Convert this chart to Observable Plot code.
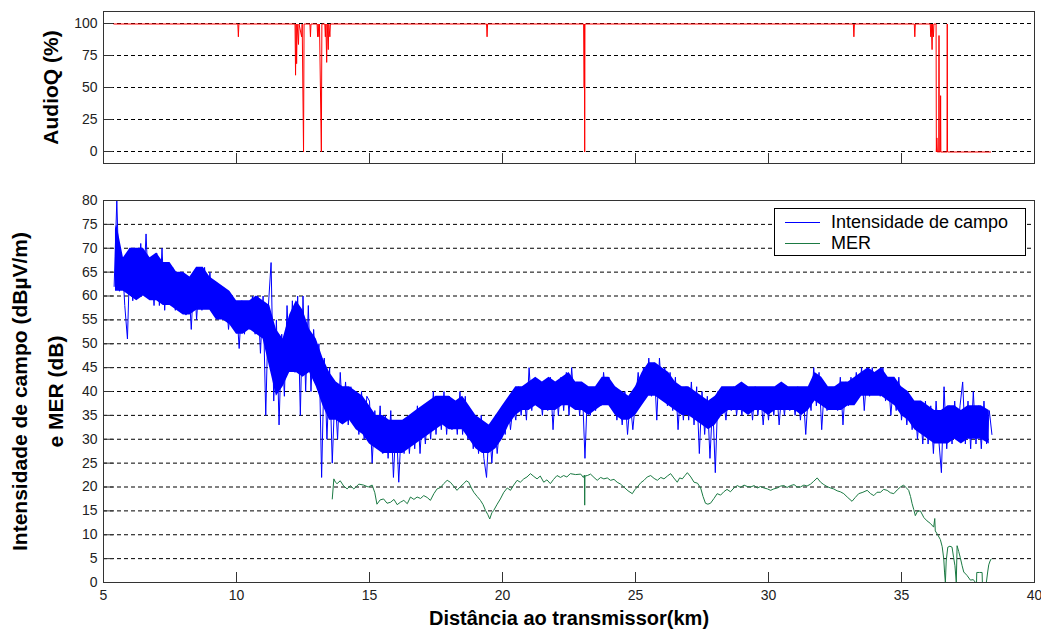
<!DOCTYPE html>
<html>
<head>
<meta charset="utf-8">
<script src="https://cdn.jsdelivr.net/npm/d3@7"></script>
<script src="https://cdn.jsdelivr.net/npm/@observablehq/plot@0.6"></script>
<style>
  html, body { margin: 0; padding: 0; background: #fff; }
  #chart { position: relative; width: 1041px; height: 630px; font-family: "Liberation Sans", Arial, sans-serif; }
  #chart svg { display: block; }
  #legend { position: absolute; left: 774px; top: 208px; width: 250px; height: 46px; border: 1px solid #000; background: #fff; font-size: 18px; color: #000; }
  #legend .row { position: absolute; left: 0; height: 20px; line-height: 20px; white-space: nowrap; }
  #legend .sw { position: absolute; left: 10px; top: 10px; width: 35px; height: 0; border-top: 1px solid; }
  #legend .lbl { position: absolute; left: 56px; top: 0; }
</style>
</head>
<body>
<div id="chart"></div>
<script>
// ---------- data ----------
const xTicks = [5, 10, 15, 20, 25, 30, 35, 40];
const audioTicks = [0, 25, 50, 75, 100];
const fieldTicks = [0, 5, 10, 15, 20, 25, 30, 35, 40, 45, 50, 55, 60, 65, 70, 75, 80];

// AudioQ (%) vs distance (km)
const audioPoints = [
  [5.39,100],[10.05,100],[10.07,90],[10.09,100],[12.2,100],[12.22,60],[12.24,100],[12.26,69],[12.28,100],
  [12.33,84],[12.35,100],[12.45,90],[12.47,100],[12.52,0],[12.54,100],[12.76,100],[12.78,90],[12.8,100],
  [13.03,100],[13.05,90],[13.07,100],[13.1,90],[13.12,100],[13.19,0],[13.21,100],[13.32,100],[13.34,90],
  [13.36,100],[13.39,70],[13.41,100],[13.45,80],[13.47,100],[13.51,90],[13.53,100],[19.4,100],[19.42,90],
  [19.44,100],[23.05,100],[23.07,50],[23.08,100],[23.09,0],[23.1,100],[33.19,100],[33.21,90],[33.23,100],
  [35.48,100],[35.5,90],[35.52,100],[36.08,100],[36.1,90],[36.12,100],[36.15,80],[36.17,100],[36.2,90],
  [36.22,100],[36.3,100],[36.31,0],[36.33,11],[36.35,0],[36.4,0],[36.41,91],[36.42,0],[36.46,0],[36.47,44],
  [36.48,0],[36.71,0],[36.72,100],[36.73,0],[38.35,0]
];

// Field strength (dBµV/m), one reading every 0.1 km from 5.4 km (spike extremes)
const fieldStartKm = 5.4;
const fieldStepKm = 0.1;
const fieldDbuv = [
  62,80,61,68,58,51,
  70,59,68,60,71,61,73,60,67,58,
  69,58,70,57,67,60,66,57,65,58,
  64,56,63,53,65,55,64,57,66,58,
  65,58,63,56,62,55,60,53,59,54,
  58,49,59,52,58,53,60,52,60,48,
  60,35,58,67,38,55,33,52,39,58,
  45,59,44,60,35,60,40,58,40,53,
  44,50,22,47,30,45,25,40,30,44,
  34,42,33,41,35,40,31,40,30,39,
  38,25,36,28,37,27,35,26,36,22,
  34,21,33,27,34,27,35,28,37,27,
  36,29,37,30,40,31,39,32,40,31,
  39,32,38,31,40,31,39,30,35,28,
  34,27,35,26,22,33,25,34,27,33,
  37,31,38,32,37,34,41,35,40,34,
  45,36,42,37,41,35,42,36,43,32,
  42,35,43,36,44,35,45,37,42,35,
  41,26,41,35,40,36,41,37,44,38,
  43,37,40,34,39,33,40,31,38,32,
  38,44,38,45,40,47,39,46,34,47,
  39,45,37,44,36,43,32,41,34,41,
  34,42,33,41,27,40,31,39,26,38,
  23,40,36,39,34,40,36,41,35,40,
  35,41,36,40,34,41,35,40,33,40,
  34,40,35,41,33,40,35,41,36,40,
  35,41,34,40,31,40,36,45,37,44,
  32,41,36,40,37,41,36,43,33,42,
  37,43,38,44,39,45,36,44,39,45,
  40,44,39,45,38,43,35,42,36,43,
  34,40,33,39,32,38,30,37,29,38,
  29,37,27,38,30,23,41,28,37,29,
  38,30,37,42,29,38,28,40,29,37,
  28,38,29,36,31
];

// Dense core of the field-strength trace: [km, low, high] (dBµV/m)
const fieldCore = [
  [5.45,61,74],[5.5,61,75],[5.75,61,68],[6.0,60,70],[6.25,59,70],[6.5,60,70],[6.75,59,68],[7.0,59,69],
  [7.25,58,67],[7.5,58,67],[7.75,57,65],[8.0,56,65],[8.25,56,64],[8.5,57,66],[8.75,57,66],[9.0,57,64],
  [9.25,55,63],[9.5,55,62],[9.75,54,61],[10.0,52,59],[10.25,52,59],[10.5,53,59],[10.75,52,60],[11.0,51,59],
  [11.25,45,58],[11.5,39,53],[11.75,41,51],[12.0,44,56],[12.25,44,59],[12.5,43,57],[12.75,44,53],[13.0,41,51],
  [13.25,37,47],[13.5,34,44],[13.75,34,42],[14.0,33,41],[14.25,34,41],[14.5,32,40],[14.75,31,39],[15.0,29,37],
  [15.25,28,35],[15.5,27,35],[15.75,27,34],[16.0,27,34],[16.25,27,34],[16.5,28,35],[16.75,29,36],[17.0,30,37],
  [17.25,31,38],[17.5,32,39],[17.75,33,39],[18.0,32,39],[18.25,32,38],[18.5,32,39],[18.75,30,37],[19.0,28,35],
  [19.25,27,34],[19.5,27,33],[19.75,28,35],[20.0,30,37],[20.25,33,39],[20.5,35,41],[20.75,36,41],[21.0,36,42],
  [21.25,37,43],[21.5,36,42],[21.75,36,43],[22.0,36,42],[22.25,37,43],[22.5,37,44],[22.75,36,42],[23.0,36,42],
  [23.25,35,41],[23.5,36,41],[23.75,37,43],[24.0,37,43],[24.25,35,41],[24.5,34,40],[24.75,34,39],[25.0,35,41],
  [25.25,37,44],[25.5,39,46],[25.75,39,46],[26.0,38,45],[26.25,37,44],[26.5,36,42],[26.75,35,41],[27.0,35,41],
  [27.25,34,40],[27.5,33,39],[27.75,32,38],[28.0,33,39],[28.25,35,41],[28.5,36,41],[28.75,36,41],[29.0,36,42],
  [29.25,35,41],[29.5,36,41],[29.75,36,41],[30.0,35,41],[30.25,36,41],[30.5,36,42],[30.75,36,41],[31.0,36,41],
  [31.25,35,41],[31.5,36,41],[31.75,38,44],[32.0,37,43],[32.25,36,41],[32.5,36,41],[32.75,36,42],[33.0,37,42],
  [33.25,37,43],[33.5,39,44],[33.75,39,45],[34.0,39,44],[34.25,39,45],[34.5,38,43],[34.75,37,43],[35.0,35,41],
  [35.25,34,40],[35.5,32,38],[35.75,31,38],[36.0,30,37],[36.25,29,36],[36.5,29,36],[36.75,29,37],[37.0,30,37],
  [37.25,29,36],[37.5,30,37],[37.75,30,37],[38.0,30,37],[38.3,29,36]
];

// MER (dB) vs distance (km)
const merPoints = [
  [13.60,17.5],[13.66,21.7],[13.72,21.0],[13.78,20.7],[13.9,21.3],[14.03,20.2],[14.16,19.6],[14.28,20.3],
  [14.41,19.6],[14.6,20.6],[14.78,20.4],[14.95,20.0],[15.1,20.4],[15.2,18.8],[15.28,16.4],[15.4,17.3],
  [15.53,17.5],[15.66,16.6],[15.79,16.8],[15.92,17.4],[16.04,16.3],[16.16,16.8],[16.29,17.2],[16.42,16.5],
  [16.54,17.9],[16.67,17.4],[16.79,17.9],[16.92,17.6],[17.04,18.2],[17.17,17.8],[17.29,17.2],[17.42,18.6],
  [17.54,19.6],[17.67,19.9],[17.79,20.7],[17.92,21.4],[18.04,21.0],[18.16,20.2],[18.29,19.3],[18.42,20.1],
  [18.54,20.7],[18.64,21.3],[18.73,21.0],[18.83,19.8],[18.92,18.9],[19.05,18.0],[19.17,17.2],[19.27,16.3],
  [19.36,15.1],[19.45,14.2],[19.52,13.3],[19.6,14.6],[19.67,15.1],[19.8,16.4],[19.92,17.5],[20.05,18.9],
  [20.18,19.8],[20.3,19.3],[20.42,20.4],[20.55,21.4],[20.67,21.0],[20.8,21.7],[20.92,22.1],[21.05,22.8],
  [21.18,22.2],[21.3,21.7],[21.42,22.3],[21.55,21.0],[21.67,21.5],[21.8,20.7],[21.92,21.6],[22.05,22.4],
  [22.18,22.0],[22.3,22.4],[22.42,22.1],[22.55,22.8],[22.75,22.6],[22.94,22.7],[23.04,22.0],[23.08,22.5],
  [23.09,16.2],[23.1,22.3],[23.19,22.4],[23.31,22.7],[23.44,22.0],[23.56,21.4],[23.69,22.0],[23.81,21.7],
  [23.94,21.9],[24.06,21.4],[24.19,21.6],[24.31,21.0],[24.44,20.6],[24.56,20.0],[24.72,19.2],[24.88,18.6],
  [24.97,19.4],[25.07,20.0],[25.2,20.9],[25.32,21.4],[25.44,22.1],[25.57,22.4],[25.7,21.8],[25.82,21.4],
  [25.95,22.0],[26.07,21.7],[26.2,22.3],[26.32,22.8],[26.44,21.9],[26.57,21.0],[26.66,21.9],[26.76,21.7],
  [26.86,22.4],[26.95,23.0],[27.08,22.1],[27.2,21.0],[27.33,20.8],[27.45,19.8],[27.54,18.0],[27.63,16.6],
  [27.72,16.4],[27.82,16.6],[27.95,17.6],[28.07,18.6],[28.2,18.3],[28.32,19.0],[28.44,19.5],[28.57,19.0],
  [28.7,19.8],[28.83,20.3],[28.95,19.9],[29.08,20.4],[29.2,20.1],[29.33,20.0],[29.46,20.3],[29.58,19.8],
  [29.7,20.1],[29.83,19.8],[29.96,19.6],[30.08,19.3],[30.2,19.6],[30.33,19.8],[30.46,20.2],[30.58,20.3],
  [30.7,19.9],[30.83,20.3],[30.96,20.5],[31.08,20.0],[31.2,20.0],[31.33,20.4],[31.45,20.2],[31.58,20.6],
  [31.7,21.2],[31.83,21.9],[31.96,21.0],[32.08,20.5],[32.2,20.1],[32.33,19.8],[32.45,19.6],[32.58,19.2],
  [32.7,19.0],[32.83,18.6],[32.96,17.9],[33.14,17.0],[33.26,17.8],[33.39,18.6],[33.55,18.9],[33.71,19.3],
  [33.84,18.6],[33.96,18.2],[34.08,18.9],[34.21,18.9],[34.33,19.5],[34.46,19.3],[34.58,18.8],[34.71,18.6],
  [34.84,19.4],[34.96,20.0],[35.08,20.4],[35.17,19.9],[35.27,19.3],[35.34,18.0],[35.4,16.5],[35.46,15.3],
  [35.52,14.0],[35.6,14.9],[35.71,15.0],[35.84,13.6],[35.96,12.9],[36.08,12.4],[36.21,11.6],[36.25,13.4],
  [36.27,10.8],[36.36,10.0],[36.46,9.0],[36.53,7.5],[36.59,4.9],[36.62,2.0],[36.65,0],[36.68,4.5],
  [36.74,7.4],[36.82,7.6],[36.9,7.4],[36.96,5.2],[37.01,3.5],[37.06,0],[37.09,7.7],[37.15,6.5],
  [37.21,5.2],[37.28,3.5],[37.34,2.2],[37.46,1.5],[37.59,0.5],[37.7,0.6],[37.78,0],[37.82,0],
  [37.83,2.1],[37.93,2.1],[38.03,2.1],[38.04,0],[38.13,0],[38.19,0],[38.24,2.2],[38.28,3.7],
  [38.33,4.5],[38.37,4.9]
];

(function () {
  // ---------- build tables ----------
  const audio = audioPoints.map(([km, q]) => ({km, q}));
  const field = fieldDbuv.map((v, i) => ({km: fieldStartKm + i * fieldStepKm, v}));
  const core = fieldCore.map(([km, lo, hi]) => ({km, lo, hi}));
  const mer = merPoints.map(([km, v]) => ({km, v}));

  const font = '"Liberation Sans", Arial, sans-serif';
  const baseStyle = {fontFamily: font, fontSize: "14px", color: "#222", background: "#fff", overflow: "visible"};
  const W = 1041, mL = 103, mR = 7;
  const frameW = W - mL - mR;
  const gridDash = "4,3";
  const titleFont = {fontWeight: "bold", fill: "#000", textAnchor: "middle", lineAnchor: "middle"};

  // ---------- top panel ----------
  const topH = 175, topMT = 11, topMB = 12;
  const topFrameH = topH - topMT - topMB;
  const topPlot = Plot.plot({
    width: W, height: topH,
    marginLeft: mL, marginRight: mR, marginTop: topMT, marginBottom: topMB,
    style: baseStyle,
    x: {domain: [5, 40], axis: null},
    y: {domain: [-9.375, 109.375], ticks: audioTicks, tickSize: 0, tickPadding: 6, label: null},
    marks: [
      Plot.ruleY(audioTicks, {stroke: "#000", strokeDasharray: gridDash}),
      Plot.ruleY(audioTicks, {stroke: "#333", insetRight: frameW - 10}),
      Plot.ruleX(xTicks.slice(1, -1), {stroke: "#333", insetTop: topFrameH - 10}),
      Plot.line(audio, {x: "km", y: "q", stroke: "#ff0000", strokeWidth: 1, dy: 0.5}),
      Plot.frame({stroke: "#333"}),
      Plot.text(["AudioQ (%)"], {text: d => d, frameAnchor: "left", dx: -52, rotate: -90, fontSize: 21, ...titleFont})
    ]
  });

  // ---------- bottom panel ----------
  const botH = 630 - topH, botMT = 25, botMB = 48;
  const botFrameH = botH - botMT - botMB;
  const bottomPlot = Plot.plot({
    width: W, height: botH,
    marginLeft: mL, marginRight: mR, marginTop: botMT, marginBottom: botMB,
    style: baseStyle,
    x: {domain: [5, 40], ticks: xTicks, tickSize: 0, tickPadding: 8, label: null},
    y: {domain: [0, 80], ticks: fieldTicks, tickSize: 0, tickPadding: 6, label: null},
    marks: [
      Plot.ruleY(fieldTicks.slice(1, -1), {stroke: "#000", strokeDasharray: gridDash}),
      Plot.ruleY(fieldTicks.slice(1, -1), {stroke: "#333", insetRight: frameW - 10}),
      Plot.ruleX(xTicks.slice(1, -1), {stroke: "#333", insetTop: botFrameH - 10}),
      Plot.areaY(core, {x: "km", y1: "lo", y2: "hi", fill: "#0000ff", fillOpacity: 1}),
      Plot.line(field, {x: "km", y: "v", stroke: "#0000ff", strokeWidth: 1}),
      Plot.line(mer, {x: "km", y: "v", stroke: "#1b7a43", strokeWidth: 1}),
      Plot.frame({stroke: "#333"}),
      Plot.text(["Intensidade de campo (dBµV/m)"], {text: d => d, frameAnchor: "left", dx: -83, rotate: -90, fontSize: 21, ...titleFont}),
      Plot.text(["e MER (dB)"], {text: d => d, frameAnchor: "left", dx: -47, rotate: -90, fontSize: 21, ...titleFont}),
      Plot.text(["Distância ao transmissor(km)"], {text: d => d, frameAnchor: "bottom", dy: 36, fontSize: 20, ...titleFont})
    ]
  });

  const chart = document.getElementById("chart");
  chart.appendChild(topPlot);
  chart.appendChild(bottomPlot);

  // legend
  const legendItems = [
    {label: "Intensidade de campo", color: "#0000ff"},
    {label: "MER", color: "#1b7a43"}
  ];
  const legend = document.createElement("div");
  legend.id = "legend";
  legendItems.forEach((it, i) => {
    const row = document.createElement("div");
    row.className = "row";
    row.style.top = (3 + i * 21) + "px";
    row.style.width = "100%";
    const sw = document.createElement("div");
    sw.className = "sw";
    sw.style.borderTopColor = it.color;
    const lb = document.createElement("div");
    lb.className = "lbl";
    lb.textContent = it.label;
    row.appendChild(sw);
    row.appendChild(lb);
    legend.appendChild(row);
  });
  chart.appendChild(legend);
})();
</script>
</body>
</html>
